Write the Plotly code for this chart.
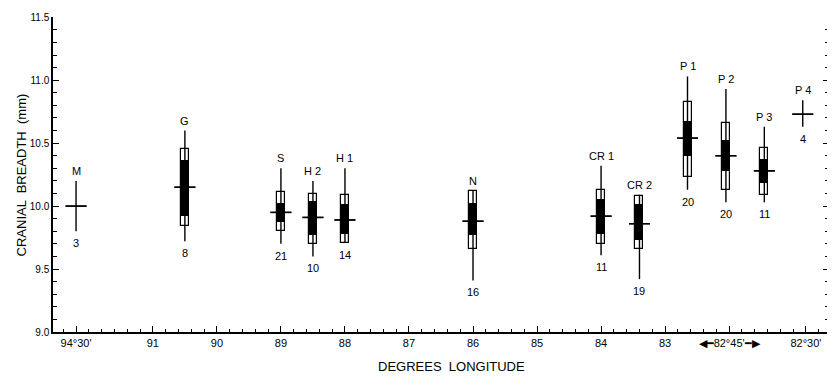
import plotly.graph_objects as go

# ---- data ----
names = ["M", "G", "S", "H 2", "H 1", "N", "CR 1", "CR 2", "P 1", "P 2", "P 3", "P 4"]
longitude_pos = [92.2, 90.5, 89.0, 88.5, 88.0, 86.0, 84.0, 83.4, 82.65, 82.05, 81.45, 80.85]
sample_n = [3, 8, 21, 10, 14, 16, 11, 19, 20, 20, 11, 4]
mean = [10.00, 10.15, 9.95, 9.91, 9.89, 9.88, 9.92, 9.86, 10.54, 10.40, 10.28, 10.73]
range_lo = [9.80, 9.72, 9.70, 9.60, 9.71, 9.41, 9.61, 9.42, 10.13, 10.03, 10.03, 10.63]
range_hi = [10.20, 10.60, 10.30, 10.20, 10.30, 10.12, 10.32, 10.09, 11.03, 10.93, 10.63, 10.84]
sd_lo = [None, 9.84, 9.80, 9.70, 9.71, 9.66, 9.70, 9.66, 10.23, 10.13, 10.09, None]
sd_hi = [None, 10.45, 10.11, 10.10, 10.09, 10.12, 10.13, 10.08, 10.83, 10.66, 10.46, None]
se_lo = [None, 9.92, 9.875, 9.77, 9.78, 9.77, 9.78, 9.73, 10.40, 10.28, 10.18, None]
se_hi = [None, 10.36, 10.02, 10.03, 10.01, 10.02, 10.05, 10.01, 10.67, 10.52, 10.37, None]

x_tick_vals = [92.2, 91, 90, 89, 88, 87, 86, 85, 84, 83, 82.0, 80.8]
x_tick_text = ["94°30'", "91", "90", "89", "88", "87", "86", "85", "84", "83",
               "◀━82°45'━▶", "82°30'"]
y_tick_vals = [9.0, 9.5, 10.0, 10.5, 11.0, 11.5]
y_tick_text = ["9.0", "9.5", "10.0", "10.5", "11.0", "11.5"]

FONT = "Liberation Sans"


def span(lo, hi):
    return [None if a is None else b - a for a, b in zip(lo, hi)]


fig = go.Figure()

# open boxes (SD)
fig.add_trace(go.Bar(
    x=longitude_pos, y=span(sd_lo, sd_hi), base=sd_lo, width=0.125,
    marker=dict(color="white", line=dict(color="black", width=1.2)),
    hoverinfo="skip", showlegend=False))
# range line + mean tick
fig.add_trace(go.Scatter(
    x=longitude_pos, y=mean, mode="markers",
    marker=dict(symbol="line-ew", size=15, color="black",
                line=dict(color="black", width=1.4)),
    error_y=dict(type="data", symmetric=False,
                 array=[h - m for h, m in zip(range_hi, mean)],
                 arrayminus=[m - l for m, l in zip(mean, range_lo)],
                 width=0, thickness=1.4, color="black"),
    showlegend=False))
# filled boxes (SE)
fig.add_trace(go.Bar(
    x=longitude_pos, y=span(se_lo, se_hi), base=se_lo, width=0.125,
    marker=dict(color="black", line=dict(color="black", width=1)),
    hoverinfo="skip", showlegend=False))
# redraw mean ticks on top
fig.add_trace(go.Scatter(
    x=longitude_pos, y=mean, mode="markers",
    marker=dict(symbol="line-ew", size=15, color="black",
                line=dict(color="black", width=1.4)),
    showlegend=False, hoverinfo="skip"))

annotations = []
for x, nm, hi, lo, k in zip(longitude_pos, names, range_hi, range_lo, sample_n):
    annotations.append(dict(x=x, y=hi, text=nm, showarrow=False, yanchor="middle",
                            yshift=10, font=dict(family=FONT, size=11, color="black")))
    annotations.append(dict(x=x, y=lo, text=str(k), showarrow=False, yanchor="middle",
                            yshift=-12, font=dict(family=FONT, size=11, color="black")))

annotations.append(dict(xref="paper", yref="paper", x=-0.040, y=0.5,
                        xanchor="center", yanchor="middle",
                        text="CRANIAL  BREADTH  (mm)", textangle=-90, showarrow=False,
                        font=dict(family=FONT, size=13, color="black")))
annotations.append(dict(xref="paper", yref="paper", x=0.514, y=-0.109,
                        xanchor="center", yanchor="middle",
                        text="DEGREES  LONGITUDE", showarrow=False,
                        font=dict(family=FONT, size=13, color="black")))

fig.update_layout(
    width=827, height=371,
    margin=dict(l=45, r=6, t=4, b=47),
    plot_bgcolor="white", paper_bgcolor="white",
    barmode="overlay", bargap=0,
    annotations=annotations,
    xaxis=dict(range=[92.56, 80.44], tickmode="array", tickvals=x_tick_vals,
               ticktext=x_tick_text, ticks="inside", ticklen=6, tickwidth=1,
               tickcolor="black", showline=True, linecolor="black", linewidth=1.5,
               showgrid=False, zeroline=False,
               tickfont=dict(family=FONT, size=11, color="black"),
               minor=dict(tick0=83, dtick=0.2, ticks="inside", ticklen=3,
                          tickcolor="black", showgrid=False)),
    yaxis=dict(range=[9.0, 11.502], tickmode="array", tickvals=y_tick_vals,
               ticktext=y_tick_text, ticks="inside", ticklen=6, tickwidth=1,
               tickcolor="black", showline=True, linecolor="black", linewidth=1.5,
               mirror="ticks", showgrid=False, zeroline=False,
               ticklabeloverflow="allow",
               tickfont=dict(family=FONT, size=10, color="black"),
               minor=dict(tick0=9.0, dtick=0.1, ticks="inside", ticklen=4,
                          tickcolor="black", showgrid=False)),
)

fig.write_html("out.html")
